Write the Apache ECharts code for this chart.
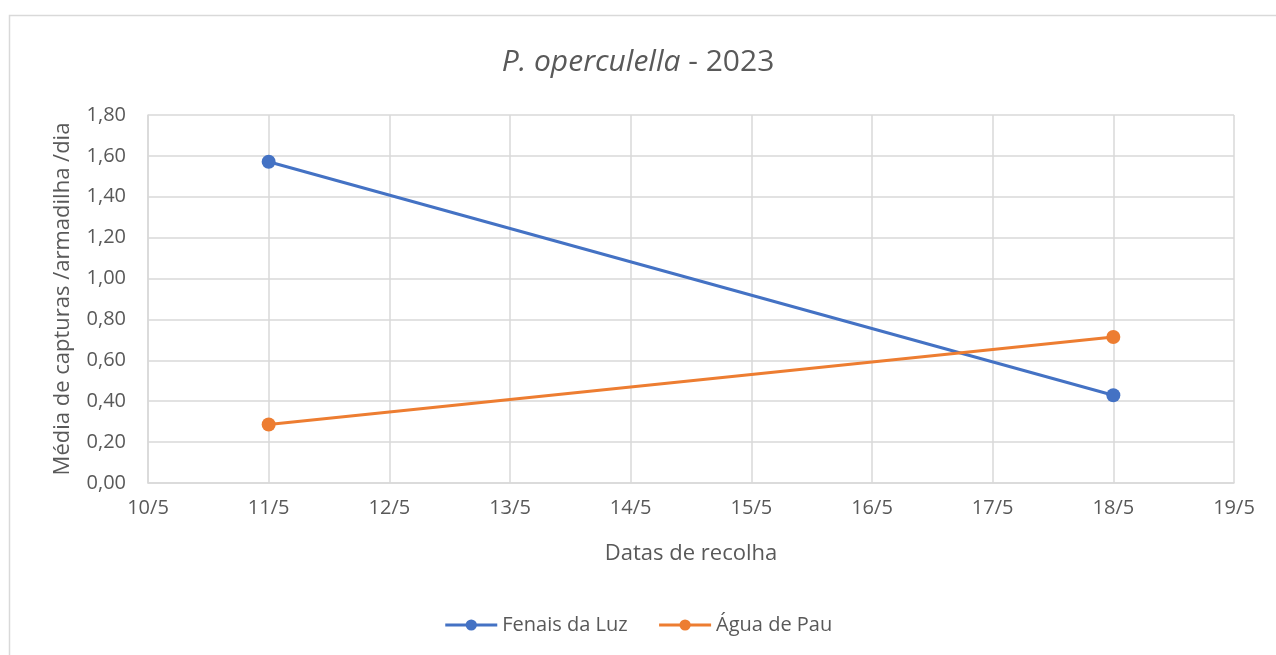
<!DOCTYPE html>
<html><head><meta charset="utf-8">
<script src="https://cdn.jsdelivr.net/npm/echarts@6/dist/echarts.min.js"></script>
<style>html,body{margin:0;padding:0;background:#fff}#c{width:1276px;height:655px}</style>
</head><body><div id="c"></div>
<script>
const dayTicks = [10, 11, 12, 13, 14, 15, 16, 17, 18, 19];
const month = 5;
const dates = [11, 18];
const fenaisDaLuz = [1.571, 0.429];
const aguaDePau = [0.286, 0.714];
const yTicks = [0, 0.2, 0.4, 0.6, 0.8, 1.0, 1.2, 1.4, 1.6, 1.8];

const font = '"Open Sans", "Noto Sans", sans-serif';
const chart = echarts.init(document.getElementById('c'));
const pairs = arr => dates.map((d, i) => [d, arr[i]]);
chart.setOption({
  animation: false,
  graphic: [{type: 'rect', shape: {x: 9.5, y: 15.5, width: 1300, height: 700},
    style: {fill: 'none', stroke: '#d9d9d9', lineWidth: 1.5}, silent: true, z: -1}],
  title: {
    text: '{i|P. operculella}{n| - 2023}',
    left: 'center', top: 42,
    textStyle: {fontWeight: 'normal', rich: {
      i: {fontFamily: font, fontSize: 30, fontStyle: 'italic', fontWeight: 'normal', color: '#595959'},
      n: {fontFamily: font, fontSize: 30, fontWeight: 'normal', color: '#595959'}
    }}
  },
  grid: {left: 148, right: 42, top: 115, bottom: 172, containLabel: false},
  xAxis: {
    type: 'value', min: dayTicks[0], max: dayTicks[dayTicks.length - 1], interval: 1,
    name: 'Datas de recolha', nameLocation: 'middle', nameGap: 60,
    nameTextStyle: {fontFamily: font, fontSize: 22, color: '#595959'},
    axisLine: {show: true, lineStyle: {color: '#d9d9d9', width: 1.5}},
    axisTick: {show: false},
    axisLabel: {fontFamily: font, fontSize: 20, color: '#595959', margin: 15,
      formatter: v => v + '/' + month},
    splitLine: {show: true, lineStyle: {color: '#d9d9d9', width: 1.5}}
  },
  yAxis: {
    type: 'value', min: yTicks[0], max: yTicks[yTicks.length - 1], interval: 0.2,
    name: 'Média de capturas /armadilha /dia', nameLocation: 'middle', nameGap: 74,
    nameTextStyle: {fontFamily: font, fontSize: 22, color: '#595959'},
    axisLine: {show: true, lineStyle: {color: '#d9d9d9', width: 1.5}},
    axisTick: {show: false},
    axisLabel: {fontFamily: font, fontSize: 20, color: '#595959', margin: 22,
      formatter: v => v.toFixed(2).replace('.', ',')},
    splitLine: {show: true, lineStyle: {color: '#d9d9d9', width: 1.5}}
  },
  legend: {
    bottom: 15, left: 'center', itemWidth: 52, itemHeight: 14, itemGap: 30,
    lineStyle: {width: 3},
    textStyle: {fontFamily: font, fontSize: 20, color: '#595959'},
    data: ['Fenais da Luz', 'Água de Pau']
  },
  series: [
    {name: 'Fenais da Luz', type: 'line', data: pairs(fenaisDaLuz), symbol: 'circle', symbolSize: 14,
      lineStyle: {color: '#4472C4', width: 3}, itemStyle: {color: '#4472C4'}},
    {name: 'Água de Pau', type: 'line', data: pairs(aguaDePau), symbol: 'circle', symbolSize: 14,
      lineStyle: {color: '#ED7D31', width: 3}, itemStyle: {color: '#ED7D31'}}
  ]
});
</script></body></html>
